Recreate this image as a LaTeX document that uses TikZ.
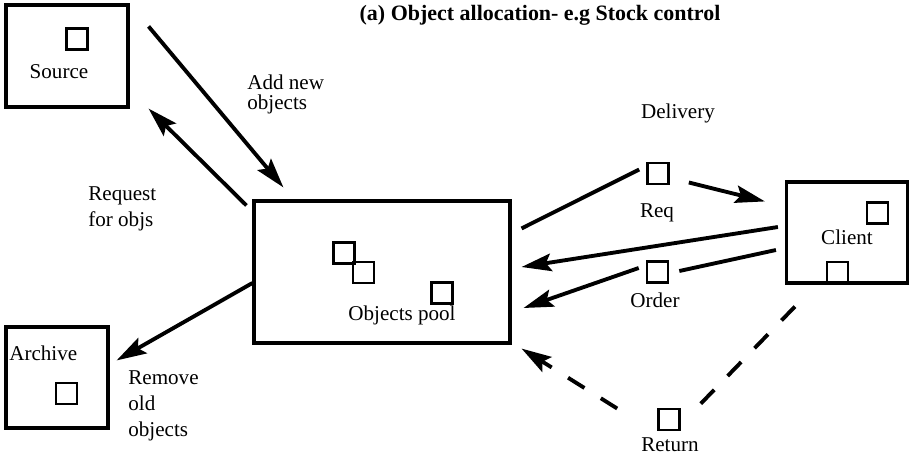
\documentclass[tikz,border=0pt]{standalone}
\usepackage{fontspec}
\setmainfont{Liberation Serif}
\usetikzlibrary{arrows.meta}
\tikzset{
  bigbox/.style={draw, line width=1.8pt, minimum width=#1, inner sep=0pt},
  objbox/.style={draw, line width=1.5pt, minimum size=0.42cm, inner sep=0pt},
  lbl/.style={font=\fontsize{12}{11}\selectfont, inner sep=0pt},
  arr/.style={line width=2.2pt, -{Stealth[length=17pt, width=10pt, inset=3pt]}},
  plain/.style={line width=2.2pt},
  dashline/.style={line width=2.2pt, dash pattern=on 11pt off 11pt},
}

\begin{document}
\begin{tikzpicture}[x=0.02cm, y=-0.02cm]
    \useasboundingbox (0,0) rectangle (914,468);
    % boxes
    \node[bigbox=2.44cm, minimum height=2.04cm] (source) at (67,56) {};
    \node[bigbox=5.12cm, minimum height=2.84cm] (pool) at (382,272) {};
    \node[bigbox=2.42cm, minimum height=2.02cm] (client) at (847,232.5) {};
    \node[bigbox=2.04cm, minimum height=2.02cm] (archive) at (57,377.5) {};
    % objects
    \node[objbox] (srcobj) at (77,39) {};
    \node[objbox] (poolobja) at (344,253) {};
    \node[objbox] (poolobjb) at (363.5,272.5) {};
    \node[objbox] (poolobjc) at (442,293) {};
    \node[objbox] (reqobj) at (658,173.5) {};
    \node[objbox] (orderobj) at (657.5,272) {};
    \node[objbox] (retobj) at (669,419.5) {};
    \node[objbox] (cliobja) at (877.5,213) {};
    \node[objbox] (cliobjb) at (837.5,272.5) {};
    \node[objbox] (arcobj) at (66.5,393.5) {};
    % texts
    \node[lbl, font=\fontsize{12.5}{14}\selectfont\bfseries] (title) at (540,15) {(a) Object allocation- e.g Stock control};
    \node[lbl] (srclbl) at (59,72) {Source};
    \node[lbl] (poollbl) at (402,315) {Objects pool};
    \node[lbl] (clilbl) at (847,237) {Client};
    \node[lbl, anchor=west] (arclbl) at (9,353) {Archive};
    \node[lbl] (reqlbl) at (657,213) {Req};
    \node[lbl] (orderlbl) at (655,300) {Order};
    \node[lbl] (retlbl) at (670,445) {Return};
    \node[lbl] (dellbl) at (678,113) {Delivery};
    \node[lbl, align=left, anchor=north west] (addlbl) at (247,75) {Add new\\objects};
    \node[lbl, font=\fontsize{12}{15}\selectfont, align=left, anchor=north west] (reqforlbl) at (88,186) {Request\\for objs};
    \node[lbl, font=\fontsize{12}{15}\selectfont, align=left, anchor=north west] (remlbl) at (128,370) {Remove\\old\\objects};
    % connectors
    \draw[arr] ([shift={(19,23)}]source.north east) -- ([shift={(31,-12)}]pool.north west);
    \draw[arr] ([shift={(-6,6)}]pool.north west) -- ([shift={(19,0)}]source.south east);
    \draw[arr] ([shift={(0,11)}]pool.west) -- ([shift={(7,35)}]archive.north east);
    \draw[plain] ([shift={(10,29)}]pool.north east) -- ([shift={(-7,-4)}]reqobj.west);
    \draw[arr] ([shift={(19,9)}]reqobj.east) -- ([shift={(-20,21)}]client.north west);
    \draw[arr] ([shift={(-7,-5.5)}]client.west) -- ([shift={(10,-5)}]pool.east);
    \draw[plain] ([shift={(-9,17.5)}]client.west) -- ([shift={(10,-1)}]orderobj.east);
    \draw[arr] ([shift={(-7,-4)}]orderobj.west) -- ([shift={(12,36)}]pool.east);
    \draw[dashline] ([shift={(10,22)}]client.south west) -- ([shift={(18,-2)}]retobj.north east);
    \draw[dashline, arr] ([shift={(-40,-11)}]retobj.west) -- ([shift={(10,4)}]pool.south east);
  \end{tikzpicture}
\end{document}
